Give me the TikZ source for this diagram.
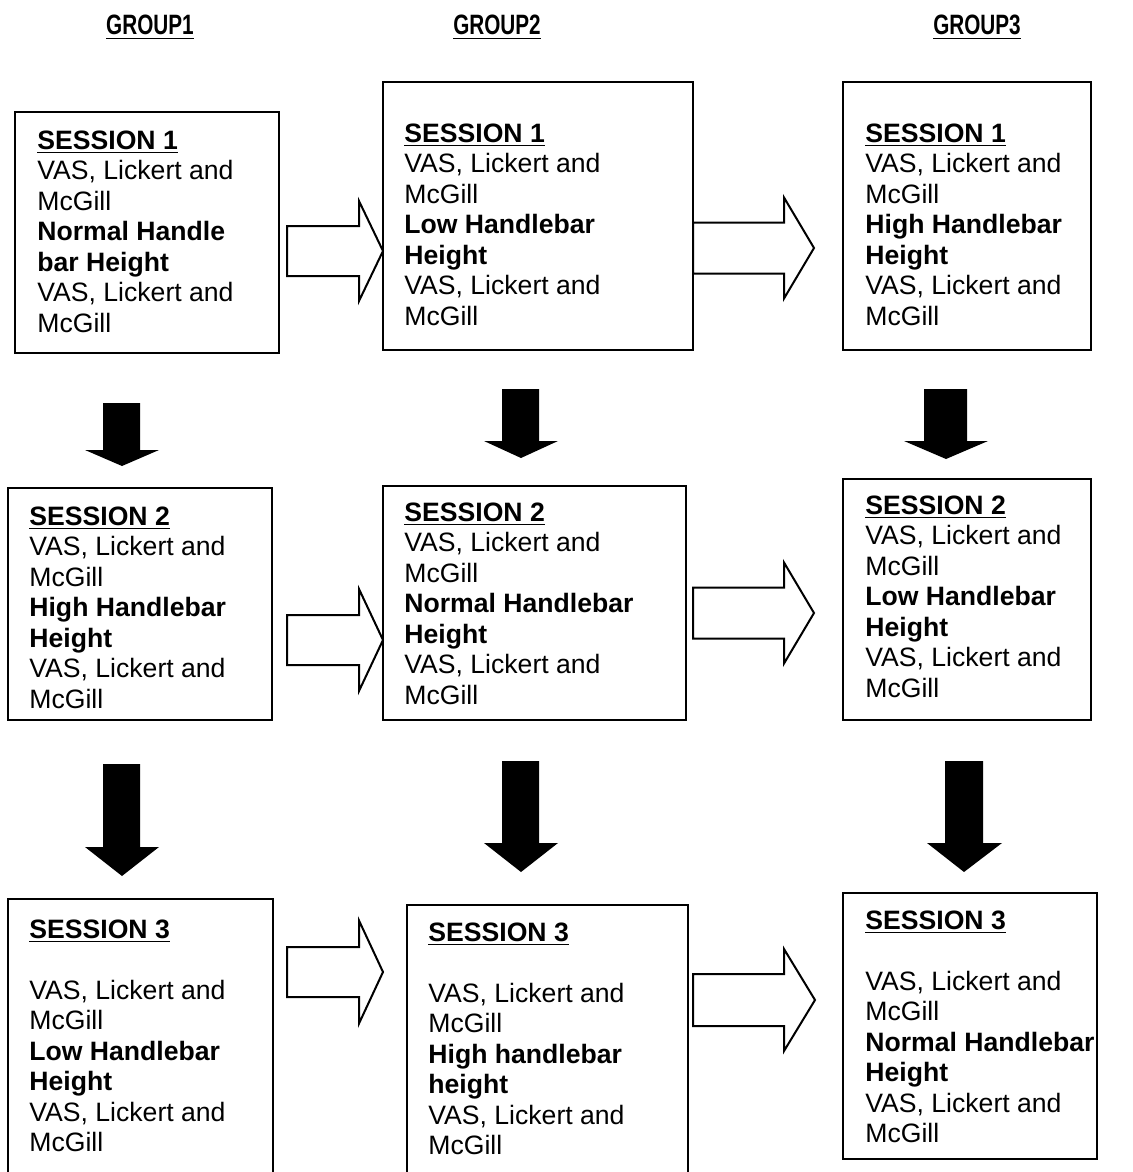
\documentclass[tikz,border=0pt]{standalone}
\usepackage{fontspec}
\usepackage{graphicx}
\setmainfont{Liberation Sans}
\usetikzlibrary{fit}
\newcommand\sesshead[1]{\underline{\textbf{#1}}}
\newcommand\grouphead[1]{\scalebox{0.74}[1]{\underline{\textbf{#1}}}}
\newcommand\vaslines{VAS, Lickert and\\McGill}
\begin{document}
\begin{tikzpicture}[x=0.5pt,y=-0.5pt,
  box/.style={draw, line width=1pt, inner sep=0pt},
  txt/.style={anchor=base west, inner sep=0pt, font=\fontsize{13.3}{15.25}\selectfont},
  hdr/.style={anchor=base, inner sep=0pt, font=\fontsize{14}{16}\selectfont},
  rarr/.style={draw, line width=1pt, fill=white, line join=miter},
  darr/.style={fill=black, draw=none}]
\useasboundingbox (0,0) rectangle (1133,1172);

% group headers
\node[hdr] (g1) at (150,35) {\grouphead{GROUP1}};
\node[hdr] (g2) at (497,35) {\grouphead{GROUP2}};
\node[hdr] (g3) at (977,35) {\grouphead{GROUP3}};

% boxes
\node[box, fit={(15,112) (279,353)}] (b11) {};
\node[box, fit={(383,82) (693,350)}] (b12) {};
\node[box, fit={(843,82) (1091,350)}] (b13) {};
\node[box, fit={(8,488) (272,720)}] (b21) {};
\node[box, fit={(383,486) (686,720)}] (b22) {};
\node[box, fit={(843,479) (1091,720)}] (b23) {};
\node[box, fit={(8,899) (273,1190)}] (b31) {};
\node[box, fit={(407,905) (688,1190)}] (b32) {};
\node[box, fit={(843,893) (1097,1159)}] (b33) {};

% texts
\node[txt] (t11) at (37,149) {\parbox[t]{150pt}{\sesshead{SESSION 1}\\\vaslines\\\textbf{Normal Handle}\\\textbf{bar Height}\\\vaslines}};
\node[txt] (t12) at (404,142) {\parbox[t]{150pt}{\sesshead{SESSION 1}\\\vaslines\\\textbf{Low Handlebar}\\\textbf{Height}\\\vaslines}};
\node[txt] (t13) at (865,142) {\parbox[t]{150pt}{\sesshead{SESSION 1}\\\vaslines\\\textbf{High Handlebar}\\\textbf{Height}\\\vaslines}};
\node[txt] (t21) at (29,525) {\parbox[t]{150pt}{\sesshead{SESSION 2}\\\vaslines\\\textbf{High Handlebar}\\\textbf{Height}\\\vaslines}};
\node[txt] (t22) at (404,521) {\parbox[t]{150pt}{\sesshead{SESSION 2}\\\vaslines\\\textbf{Normal Handlebar}\\\textbf{Height}\\\vaslines}};
\node[txt] (t23) at (865,514) {\parbox[t]{150pt}{\sesshead{SESSION 2}\\\vaslines\\\textbf{Low Handlebar}\\\textbf{Height}\\\vaslines}};
\node[txt] (t31) at (29,938) {\parbox[t]{150pt}{\sesshead{SESSION 3}\\[15.25pt]\vaslines\\\textbf{Low Handlebar}\\\textbf{Height}\\\vaslines}};
\node[txt] (t32) at (428,941) {\parbox[t]{150pt}{\sesshead{SESSION 3}\\[15.25pt]\vaslines\\\textbf{High handlebar}\\\textbf{height}\\\vaslines}};
\node[txt] (t33) at (865,929) {\parbox[t]{150pt}{\sesshead{SESSION 3}\\[15.25pt]\vaslines\\\textbf{Normal Handlebar}\\\textbf{Height}\\\vaslines}};

% outlined right arrows: (x0, xh, xtip, ytip, shaft half, head half)
\newcommand\rightblock[6]{%
  \draw[rarr] (#1,#4-#5) -- (#2,#4-#5) -- (#2,#4-#6) -- (#3,#4) -- (#2,#4+#6) -- (#2,#4+#5) -- (#1,#4+#5) -- cycle;}
\rightblock{287}{359}{383}{251}{25}{50}
\rightblock{693}{784}{814}{248}{25.5}{50.5}
\rightblock{287}{359}{383}{640}{25}{51}
\rightblock{693}{784}{814}{613}{25.5}{50.5}
\rightblock{287}{359}{383}{972}{25}{51.5}
\rightblock{693}{784}{815}{1000}{26}{51}

% filled down arrows: (sx0, sx1, top, yh, hx0, hx1, tipx, tipy)
\newcommand\downblock[8]{%
  \fill[darr] (#1,#3) -- (#2,#3) -- (#2,#4) -- (#6,#4) -- (#7,#8) -- (#5,#4) -- (#1,#4) -- cycle;}
\downblock{103}{140}{403}{450}{85}{159}{122}{466}
\downblock{502}{539}{389}{441}{484}{558}{521}{458}
\downblock{924}{967}{389}{441}{904}{988}{946}{459}
\downblock{103}{140}{764}{847}{85}{159}{122}{876}
\downblock{502}{539}{761}{843}{484}{558}{521}{872}
\downblock{945}{983}{761}{843}{927}{1002}{964}{872}
\end{tikzpicture}
\end{document}
